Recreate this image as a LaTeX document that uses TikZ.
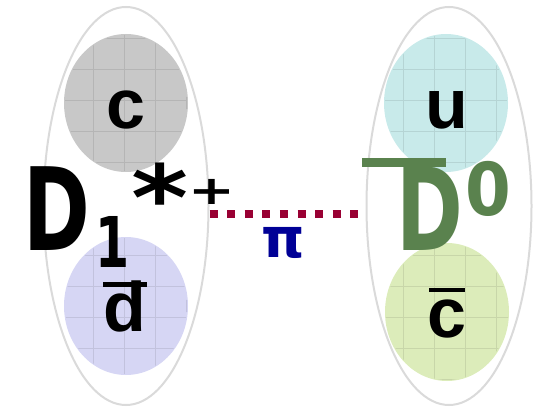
\documentclass[tikz,border=0pt]{standalone}
\usepackage{fontspec}
\setmainfont{Liberation Sans}
\newfontfamily\handfont{DejaVu Sans}
\usetikzlibrary{shapes.geometric}

\definecolor{hadrongray}{RGB}{218,218,218}
\definecolor{quarkgray}{RGB}{200,200,200}
\definecolor{quarkcyan}{RGB}{200,234,234}
\definecolor{quarkblue}{RGB}{214,214,244}
\definecolor{quarkgreen}{RGB}{220,236,186}
\definecolor{mesongreen}{RGB}{90,130,78}
\definecolor{pionred}{RGB}{153,0,51}
\definecolor{pionblue}{RGB}{0,0,150}

\tikzset{
    hadron/.style={ellipse, draw=hadrongray, line width=2pt, inner sep=0pt,
            minimum width=165pt, minimum height=398pt},
    quark/.style={ellipse, inner sep=0pt, minimum width=124pt, minimum height=138pt},
    flavour/.style={anchor=base, inner sep=0pt, font=\fontsize{70}{80}\selectfont\bfseries},
    hand/.style={anchor=base, inner sep=0pt, font=\handfont\bfseries},
    pionline/.style={pionred, line width=8pt, dash pattern=on 8pt off 9.6pt},
}

\begin{document}
\begin{tikzpicture}[x=1pt, y=1pt]
            \useasboundingbox (0,0) rectangle (540,410);

            % Draw the two hadrons
            \node[hadron] (ellL) at (126,204) {};
            \node[hadron] (ellR) at (449,204) {};

            % Draw the quark clouds
            \node[quark, fill=quarkgray] (qc) at (126,307) {};
            \node[quark, fill=quarkblue] (qd) at (126,104) {};
            \node[quark, fill=quarkcyan] (qu) at (446,307) {};
            \node[quark, fill=quarkgreen] (qcbar) at (447,98) {};

            % Plaid texture of the clouds
            \foreach \q/\col in {qc/quarkgray, qd/quarkblue, qu/quarkcyan, qcbar/quarkgreen} {
                    \begin{scope}
                        \path[clip] (\q.center) ellipse (61pt and 68pt);
                        \draw[\col!70!black, opacity=0.3, line width=0.5pt, step=31pt]
                            ([shift={(-62pt,-69pt)}]\q.center) grid ([shift={(62pt,69pt)}]\q.center);
                    \end{scope}
                }

            % Quark flavours
            \node[flavour] (c) at (126,281) {c};
            \node[flavour] (dbar) at (125,79) {d};
            \node[flavour] (u) at (447,281) {u};
            \node[flavour] (cbar) at (447,73) {c};
            \draw[line width=5pt] ([yshift=-4pt]dbar.north west) -- ([yshift=-4pt]dbar.north east);
            \draw[line width=4pt] ([xshift=2pt,yshift=9pt]cbar.north west) -- ([xshift=-2pt,yshift=9pt]cbar.north east);

            % The D_1^{*+} meson
            \node[hand, xscale=0.7, font=\handfont\bfseries\fontsize{115}{120}\selectfont] (dL) at (57,160) {D};
            \node[hand, xscale=0.7, font=\handfont\bfseries\fontsize{70}{80}\selectfont] (dLsub) at (113,143) {1};
            \node[hand, xscale=1.2, font=\handfont\bfseries\fontsize{91}{100}\selectfont] (dLstar) at (160,180) {*};
            \node[hand, xscale=1.4, font=\handfont\bfseries\fontsize{40}{48}\selectfont] (dLplus) at (212,206) {+};

            % The anti-D^0 meson
            \node[hand, xscale=0.7, mesongreen, font=\handfont\bfseries\fontsize{115}{120}\selectfont] (dR) at (430,160) {D};
            \node[hand, xscale=0.9, mesongreen, font=\handfont\bfseries\fontsize{73}{80}\selectfont] (dRsup) at (488,195) {0};
            \draw[mesongreen, line width=9pt] ([xshift=-34pt,yshift=3pt]dR.north west) -- ([xshift=50pt,yshift=3pt]dR.north west);

            % Pion exchange
            \draw[pionline] ([yshift=-8pt]ellL.east) -- ([yshift=-8pt]ellR.west)
                node[pos=0.47, below=9pt, inner sep=0pt, pionblue, font=\handfont\bfseries\fontsize{55}{60}\selectfont] (pi) {π};
        \end{tikzpicture}
\end{document}
